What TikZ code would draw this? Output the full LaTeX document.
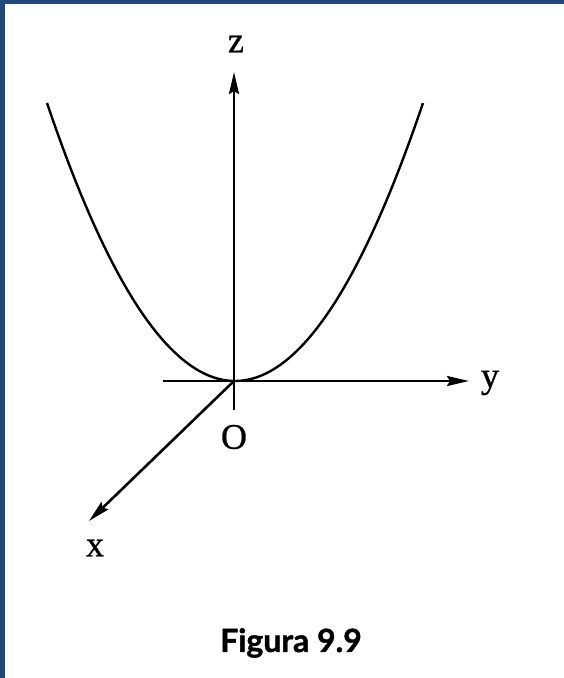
\documentclass[tikz,border=0pt]{standalone}
\usepackage{fontspec}
\setmainfont{Liberation Serif}[FakeBold=0.8]
\newfontfamily\fuentepie{Lato}[BoldFeatures={FakeBold=1.2}]
\usetikzlibrary{arrows.meta, positioning, calc}

\definecolor{azulmarco}{RGB}{31,73,125}

\begin{document}
\begin{tikzpicture}[
    x=1pt, y=-1pt,
    eje/.style = {line width=2.6pt, black},
    flecha/.style = {eje, -{Stealth[length=22pt, width=10pt, inset=3pt]}},
    curva/.style = {line width=2.4pt, black},
    etiqueta/.style = {inner sep=0pt, font=\fontsize{36}{40}\selectfont},
    pie/.style = {inner sep=0pt, font=\fuentepie\bfseries\fontsize{32}{36}\selectfont}
]

% Marco
\fill[azulmarco] (0,0) rectangle (564,678);
\fill[white] (5,4) rectangle (564,678);
\useasboundingbox (0,0) rectangle (564,678);

% Puntos de los ejes
\coordinate (origen) at (234,381);
\coordinate (zfin)   at (234,72);
\coordinate (zini)   at (234,410);
\coordinate (yini)   at (163,381);
\coordinate (yfin)   at (469,381);
\coordinate (xfin)   at (89,521);

% Etiquetas
\node[etiqueta] (z) at (236,44)  {z};
\node[etiqueta] (y) at (490,383) {y};
\node[etiqueta] (x) at (95,548)  {x};
\node[etiqueta] (o) at (234,437) {O};

% Parabola
\draw[curva] plot[domain=-1:1, samples=80]
    ({235 + 188*\x}, {381 - 278*\x*\x});

% Ejes
\draw[flecha] (zini) -- (zfin);
\draw[flecha] (yini) -- (yfin);
\draw[flecha] (origen) -- (xfin);

% Pie de figura
\node[pie] (titulo) at (291,643) {Figura 9.9};

\end{tikzpicture}
\end{document}
